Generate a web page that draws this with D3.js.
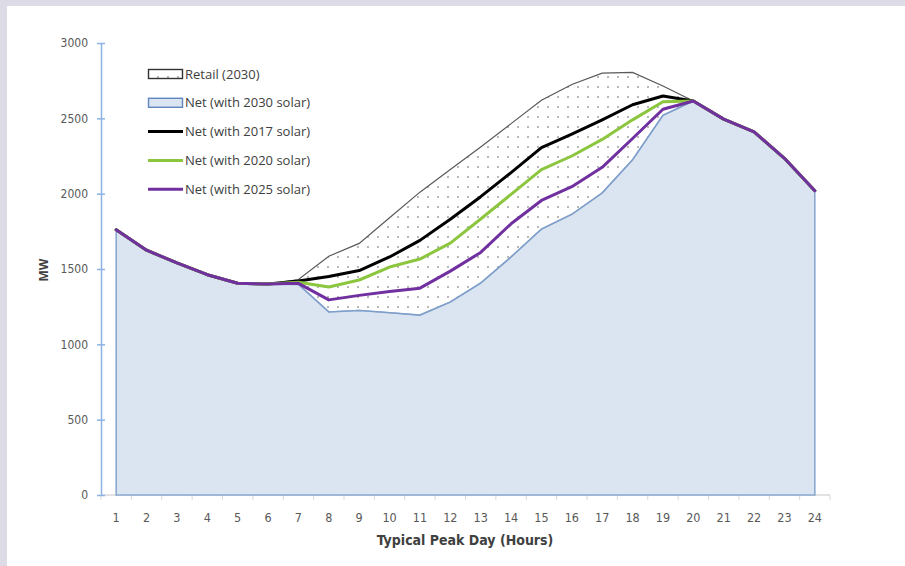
<!DOCTYPE html>
<html><head><meta charset="utf-8">
<script src="https://cdn.jsdelivr.net/npm/d3@7"></script>
<style>
html,body{margin:0;padding:0;background:#dddce6;}
#panel{position:absolute;left:7px;top:6px;width:898px;height:560px;background:#fff;}
svg{position:absolute;left:0;top:0;}
</style></head>
<body><div id="panel"></div><svg id="chart" width="905" height="566"></svg>
<script>
const hours = d3.range(1, 25);
const retail2030 = [1760,1625,1540,1462,1405,1400,1430,1585,1670,1840,2010,2160,2310,2465,2620,2725,2800,2805,2715,2615,2495,2410,2235,2020];
const net2017    = [1760,1625,1540,1462,1405,1400,1420,1450,1490,1580,1690,1830,1980,2140,2305,2395,2490,2590,2648,2615,2495,2410,2235,2020];
const net2020    = [1760,1625,1540,1462,1405,1400,1412,1380,1427,1513,1566,1672,1832,1995,2160,2250,2360,2490,2610,2615,2495,2410,2235,2020];
const net2025    = [1760,1625,1540,1462,1405,1400,1405,1295,1325,1350,1373,1486,1610,1800,1955,2046,2175,2366,2560,2615,2495,2410,2235,2020];
const net2030    = [1760,1625,1540,1462,1405,1400,1398,1215,1225,1210,1194,1281,1407,1580,1765,1863,2005,2225,2520,2615,2495,2410,2235,2020];
const yTicks = [0,500,1000,1500,2000,2500,3000];
const legendLabels = ["Retail (2030)","Net (with 2030 solar)","Net (with 2017 solar)","Net (with 2020 solar)","Net (with 2025 solar)"];

const svg = d3.select("#chart");
const defs = svg.append("defs");
const pat = defs.append("pattern").attr("id","dots").attr("patternUnits","userSpaceOnUse")
  .attr("width",10).attr("height",10).attr("x",3).attr("y",2);
pat.append("rect").attr("width",10).attr("height",10).attr("fill","#fff");
pat.append("circle").attr("cx",5).attr("cy",5).attr("r",0.95).attr("fill","#9a9a9a");

const x = d3.scaleBand().domain(hours).range([101, 830]).padding(0);
const xc = h => x(h) + x.bandwidth()/2;
const y = d3.scaleLinear().domain([0,3000]).range([495,43]);

const tickFont = "'Liberation Sans Narrow','DejaVu Sans Condensed',sans-serif";
const textFont = "'Open Sans',sans-serif";

// x axis
const xAxis = d3.axisBottom(x).tickSize(0).tickPadding(0).tickFormat(d => d);
const gx = svg.append("g").attr("transform","translate(0,495)");
gx.append("line").attr("x1",101).attr("x2",830).attr("stroke","#d9d9d9").attr("stroke-width",1.5);
gx.selectAll(".xt").data(d3.range(0,25)).enter().append("line")
  .attr("x1", i => 101 + i*x.bandwidth()).attr("x2", i => 101 + i*x.bandwidth())
  .attr("y1",0).attr("y2",5).attr("stroke","#d9d9d9").attr("stroke-width",1);
const gxl = svg.append("g").attr("transform","translate(0,500)").call(xAxis);
gxl.select(".domain").remove();
gxl.selectAll("text").attr("dy",null).attr("y",22).attr("font-family",tickFont).attr("font-size",12.5).attr("fill","#595959");

// areas
const areaRetail = d3.area().x((d,i)=>xc(hours[i])).y0((d,i)=>y(net2030[i])).y1(d=>y(d));
const area2030 = d3.area().x((d,i)=>xc(hours[i])).y0(y(0)).y1(d=>y(d));
const line = d3.line().x((d,i)=>xc(hours[i])).y(d=>y(d));

svg.append("path").datum(retail2030).attr("d",areaRetail).attr("fill","url(#dots)");
svg.append("path").datum(net2030).attr("d",area2030).attr("fill","#dbe5f1").attr("stroke","#8ca9cf").attr("stroke-width",1.6);
svg.append("path").datum(retail2030).attr("d",line).attr("fill","none").attr("stroke","#595959").attr("stroke-width",1.2);
svg.append("path").datum(net2030).attr("d",line).attr("fill","none").attr("stroke","#7f9fca").attr("stroke-width",1.3);

const series = [[net2017,"#000000"],[net2020,"#8cc63f"],[net2025,"#7030a0"]];
series.forEach(([vals,col])=>{
  svg.append("path").datum(vals).attr("d",line).attr("fill","none").attr("stroke",col)
    .attr("stroke-width",3).attr("stroke-linejoin","round").attr("stroke-linecap","round");
});

// y axis
const gy = svg.append("g").attr("transform","translate(101,0)")
  .call(d3.axisLeft(y).tickValues(yTicks).tickSize(0).tickPadding(13).tickFormat(d3.format("d")));
gy.select(".domain").attr("stroke","#8db3e2").attr("stroke-width",1.5);
gy.selectAll(".tick line").attr("x1",-4).attr("x2",4).attr("stroke","#8db3e2").attr("stroke-width",1.5);
gy.selectAll(".tick text").attr("font-family",tickFont).attr("font-size",12).attr("fill","#595959");

svg.append("text").attr("transform","translate(48,270) rotate(-90)").attr("text-anchor","middle")
  .attr("font-family",textFont).attr("font-weight",700).attr("font-size",12).attr("fill","#404040").text("MW");
svg.append("text").attr("x",465).attr("y",545).attr("text-anchor","middle")
  .attr("font-family",tickFont).attr("font-weight",700).attr("font-size",14).attr("fill","#404040").text("Typical Peak Day (Hours)");

// legend
const lg = svg.append("g");
const ly = i => 74 + i*28.8;
lg.append("rect").attr("x",148.5).attr("y",ly(0)-4.5).attr("width",34).attr("height",9).attr("fill","url(#dots)").attr("stroke","#333").attr("stroke-width",1.4);
lg.append("rect").attr("x",148.5).attr("y",ly(1)-4.5).attr("width",34).attr("height",9).attr("fill","#dbe5f1").attr("stroke","#5f87bd").attr("stroke-width",1.4);
series.forEach(([v,col],k)=>{
  lg.append("line").attr("x1",148).attr("x2",183).attr("y1",ly(k+2)).attr("y2",ly(k+2)).attr("stroke",col).attr("stroke-width",3);
});
lg.selectAll("text").data(legendLabels).enter().append("text")
  .attr("x",185).attr("y",(d,i)=>ly(i)+4.5).attr("font-family",textFont).attr("font-size",13).attr("fill","#404040").text(d=>d);
</script></body></html>
